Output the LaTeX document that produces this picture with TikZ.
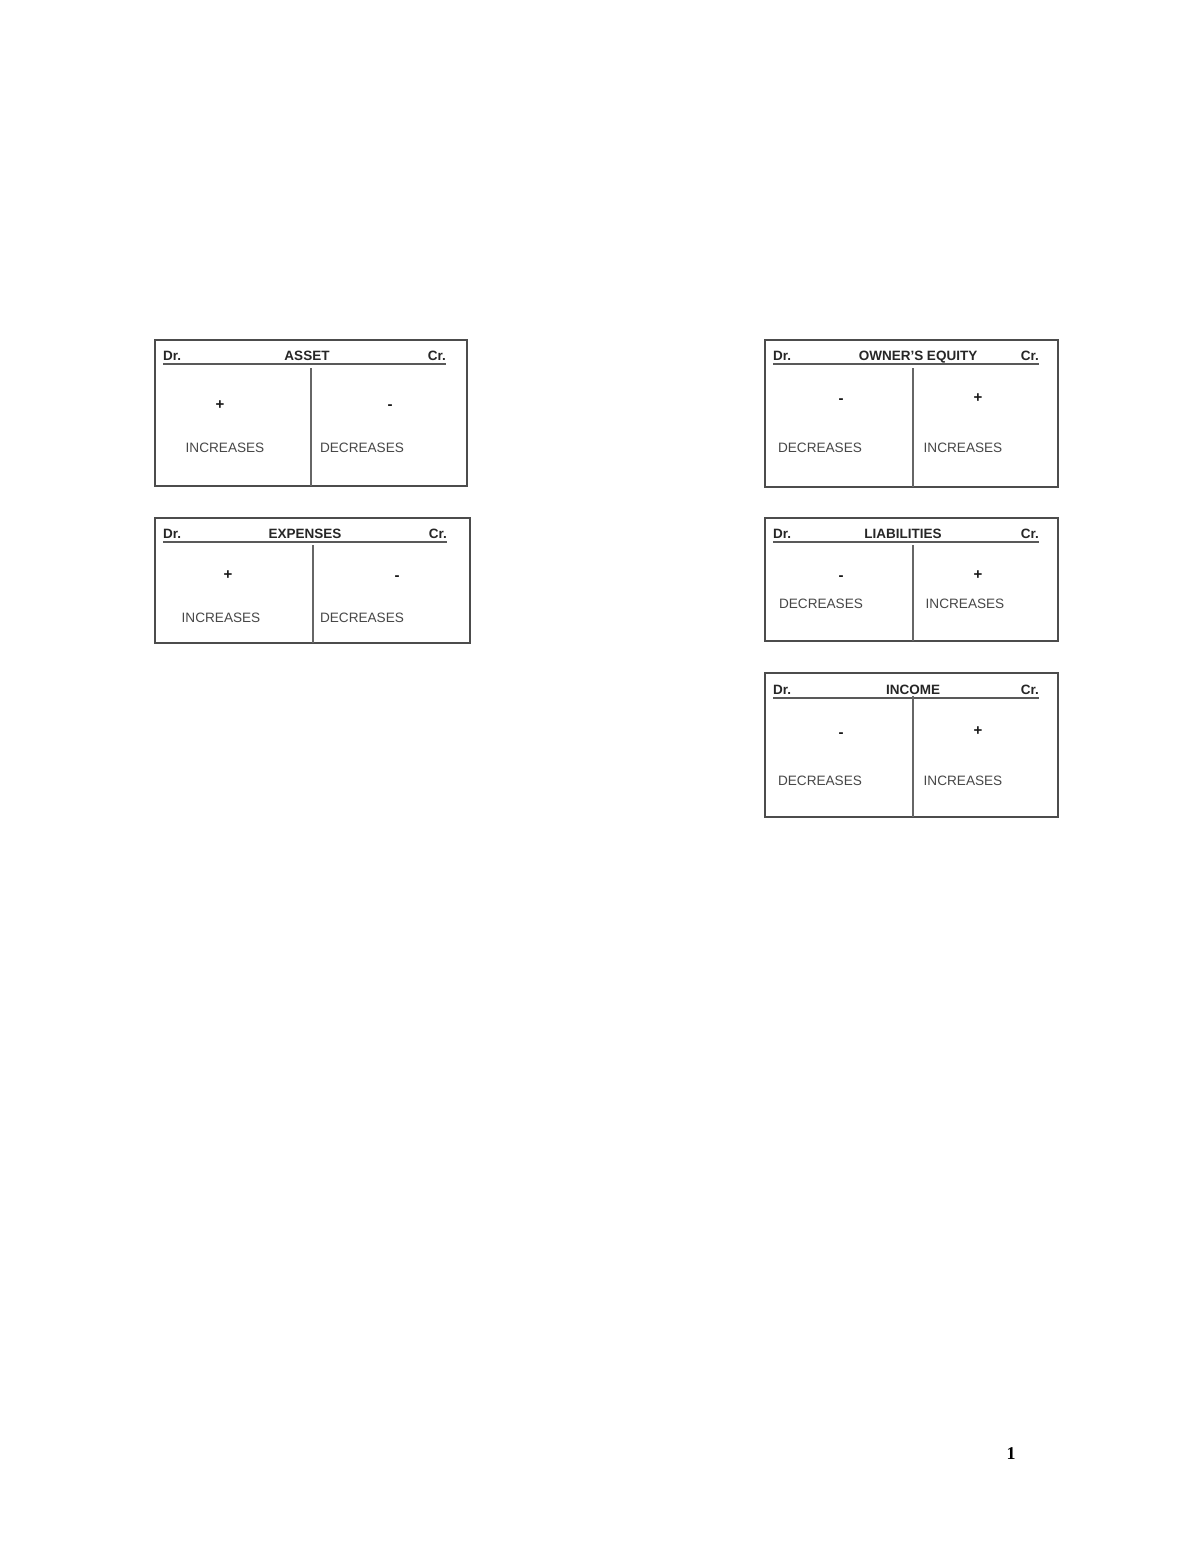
\documentclass[tikz,border=0pt]{standalone}
\usepackage{fontspec}
\setmainfont{Liberation Sans}
\newfontfamily\pagefont{Liberation Serif}
\begin{document}
\begin{tikzpicture}[x=1pt,y=-1pt,
  frame/.style={draw=black!70,line width=1.6pt},
  rule/.style={draw=black!65,line width=2pt},
  divider/.style={draw=black!60,line width=1.2pt},
  hdr/.style={inner sep=0pt,anchor=base,font=\fontsize{13.5}{14}\selectfont\bfseries,text=black!85},
  sign/.style={inner sep=0pt,anchor=base,font=\fontsize{15}{16}\selectfont\bfseries,text=black!90},
  lbl/.style={inner sep=0pt,anchor=base,font=\fontsize{13.6}{14}\selectfont,text=black!72}]
\fill[white] (0,0) rectangle (1200,1553);
\useasboundingbox (0,0) rectangle (1200,1553);

% ---------- ASSET ----------
\draw[frame] (155,340) rectangle (467,486);
\draw[rule] (163,364) -- (446,364);
\draw[divider] (311,368) -- (311,486);
\node[hdr,anchor=base west] (aDr) at (163,360) {Dr.};
\node[hdr] (aT) at (307,360) {ASSET};
\node[hdr,anchor=base east] (aCr) at (446,360) {Cr.};
\node[sign] (aP) at (220,409) {+};
\node[sign] (aM) at (390,409) {-};
\node[lbl] (aI) at (225,452) {INCREASES};
\node[lbl] (aD) at (362,452) {DECREASES};

% ---------- EXPENSES ----------
\draw[frame] (155,518) rectangle (470,643);
\draw[rule] (163,542) -- (447,542);
\draw[divider] (313,545) -- (313,643);
\node[hdr,anchor=base west] (eDr) at (163,538) {Dr.};
\node[hdr] (eT) at (305,538) {EXPENSES};
\node[hdr,anchor=base east] (eCr) at (447,538) {Cr.};
\node[sign] (eP) at (228,579) {+};
\node[sign] (eM) at (397,580) {-};
\node[lbl] (eI) at (221,622) {INCREASES};
\node[lbl] (eD) at (362,622) {DECREASES};

% ---------- OWNER'S EQUITY ----------
\draw[frame] (765,340) rectangle (1058,487);
\draw[rule] (773,364) -- (1039,364);
\draw[divider] (913,368) -- (913,487);
\node[hdr,anchor=base west] (oDr) at (773,360) {Dr.};
\node[hdr] (oT) at (918,360) {OWNER’S EQUITY};
\node[hdr,anchor=base east] (oCr) at (1039,360) {Cr.};
\node[sign] (oM) at (841,403) {-};
\node[sign] (oP) at (978,402) {+};
\node[lbl] (oD) at (820,452) {DECREASES};
\node[lbl] (oI) at (963,452) {INCREASES};

% ---------- LIABILITIES ----------
\draw[frame] (765,518) rectangle (1058,641);
\draw[rule] (773,542) -- (1039,542);
\draw[divider] (913,545) -- (913,641);
\node[hdr,anchor=base west] (lDr) at (773,538) {Dr.};
\node[hdr] (lT) at (903,538) {LIABILITIES};
\node[hdr,anchor=base east] (lCr) at (1039,538) {Cr.};
\node[sign] (lM) at (841,580) {-};
\node[sign] (lP) at (978,579) {+};
\node[lbl] (lD) at (821,608) {DECREASES};
\node[lbl] (lI) at (965,608) {INCREASES};

% ---------- INCOME ----------
\draw[frame] (765,673) rectangle (1058,817);
\draw[rule] (773,698) -- (1039,698);
\draw[divider] (913,696) -- (913,817);
\node[hdr,anchor=base west] (iDr) at (773,694) {Dr.};
\node[hdr] (iT) at (913,694) {INCOME};
\node[hdr,anchor=base east] (iCr) at (1039,694) {Cr.};
\node[sign] (iM) at (841,737) {-};
\node[sign] (iP) at (978,735) {+};
\node[lbl] (iD) at (820,785) {DECREASES};
\node[lbl] (iI) at (963,785) {INCREASES};

% ---------- page number ----------
\node[inner sep=0pt,anchor=base,font=\pagefont\fontsize{18}{20}\selectfont\bfseries] (pg) at (1011,1459) {1};
\end{tikzpicture}
\end{document}
